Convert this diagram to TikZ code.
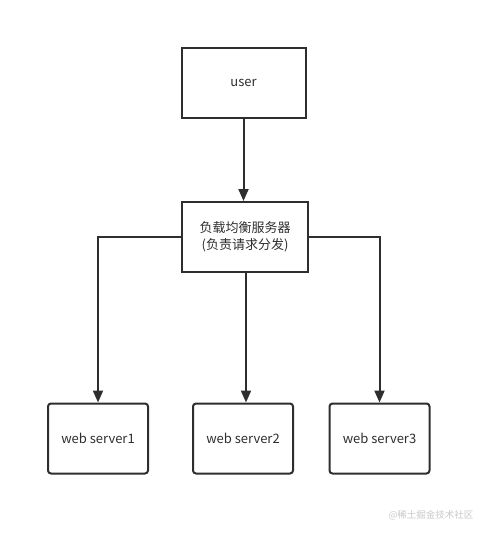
\documentclass[tikz,border=0pt]{standalone}
\usepackage{fontspec}
\setmainfont{Noto Sans CJK SC}
\usepackage{tikz}
\usetikzlibrary{arrows.meta, positioning}

\definecolor{linegray}{HTML}{2E2E2E}
\definecolor{markgray}{HTML}{C8C8C8}

\tikzset{
    box/.style={draw=linegray, line width=2pt, fill=white, minimum width=124pt, minimum height=70pt, font=\fontsize{13}{17}\selectfont, text=linegray, align=center, inner sep=0pt},
    serverbox/.style={box, rounded corners=3pt, minimum width=100pt},
    link/.style={draw=linegray, line width=2pt, -{Triangle[length=12pt, width=10pt]}}
}

\begin{document}
\begin{tikzpicture}[x=1pt, y=-1pt]
    \useasboundingbox (0,0) rectangle (492,536);

    % Boxes
    \node[box] (user) at (243.5, 82.5) {user};
    \node[box, minimum width=126pt] (lb) at (245, 237) {负载均衡服务器\\(负责请求分发)};
    \node[serverbox] (web1) at (98, 438.5) {web server1};
    \node[serverbox] (web2) at (243, 438.5) {web server2};
    \node[serverbox] (web3) at (379.5, 438.5) {web server3};

    % Arrows
    \draw[link] (user.south) -- (user.south |- lb.north);
    \draw[link] (lb.west) -| (web1.north);
    \draw[link] ([xshift=3pt]lb.south -| web2.north) -- ([xshift=3pt]web2.north);
    \draw[link] (lb.east) -| (web3.north);

    % Watermark
    \node[text=markgray, font=\fontsize{9.5}{11}\selectfont] (mark) at (431, 515.5) {@稀土掘金技术社区};
\end{tikzpicture}
\end{document}
